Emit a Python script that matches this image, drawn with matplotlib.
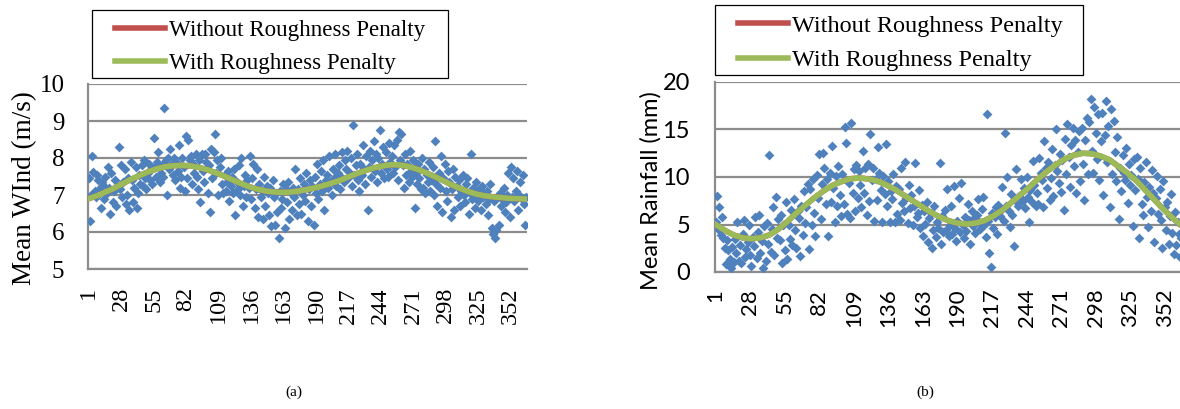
import matplotlib.pyplot as plt
from matplotlib.patches import Rectangle
import numpy as np

# дни года (категории по оси X)
days = np.arange(1, 366)
tick_days = [1, 28, 55, 82, 109, 136, 163, 190, 217, 244, 271, 298, 325, 352]

# (a) средняя скорость ветра, м/с - точки
wind = [
    7.45, 6.30, 7.00, 8.05, 7.62, 7.10, 6.95, 7.55, 7.40, 7.15, 6.65, 7.35, 7.28, 6.90, 7.50,
    7.05, 7.75, 7.20, 6.50, 7.60, 6.80, 7.10, 7.40, 6.70, 7.25, 8.30, 7.15, 7.80, 6.95, 7.35,
    7.70, 6.75, 7.00, 7.45, 6.60, 7.90, 7.40, 6.80, 7.20, 7.75, 6.65, 7.05, 7.55, 7.30, 7.80,
    7.25, 7.95, 7.45, 7.15, 7.60, 7.85, 7.40, 7.70, 7.30, 8.55, 7.75, 7.50, 7.90, 8.15, 7.35,
    7.60, 7.80, 7.50, 9.35, 7.95, 7.00, 8.00, 7.70, 8.25, 7.85, 7.55, 8.00, 7.40, 7.90, 7.65,
    8.35, 7.20, 7.50, 8.00, 7.75, 7.10, 8.60, 7.45, 8.50, 7.95, 8.05, 7.30, 7.85, 7.60, 8.10,
    7.50, 7.15, 7.95, 6.80, 8.10, 7.65, 7.35, 8.10, 7.90, 7.05, 7.80, 6.55, 8.25, 7.45, 8.15,
    8.65, 7.60, 7.95, 7.00, 7.75, 8.00, 7.30, 7.05, 7.55, 7.10, 7.35, 7.65, 6.85, 7.25, 7.50,
    7.05, 7.70, 6.45, 7.35, 7.15, 7.80, 7.00, 8.00, 6.70, 7.25, 7.55, 6.95, 7.40, 7.20, 8.05,
    6.90, 7.45, 7.85, 6.65, 7.15, 7.70, 6.40, 7.30, 6.95, 7.10, 6.35, 7.50, 6.70, 7.25, 7.05,
    6.45, 7.20, 6.15, 7.40, 6.95, 6.20, 7.05, 6.55, 5.85, 7.10, 6.65, 6.90, 7.30, 6.10, 7.15,
    6.80, 7.35, 6.35, 7.05, 6.60, 7.20, 6.95, 7.70, 6.45, 7.15, 6.75, 7.45, 6.50, 7.00, 7.30,
    6.85, 7.60, 6.30, 7.15, 7.40, 6.70, 7.25, 6.20, 7.50, 7.05, 7.85, 6.90, 7.30, 7.65, 7.10,
    7.95, 6.60, 7.40, 7.55, 7.20, 8.05, 7.35, 7.00, 7.70, 7.45, 8.10, 7.25, 7.60, 7.80, 7.15,
    7.50, 8.15, 7.35, 7.95, 7.70, 8.20, 7.45, 7.60, 8.00, 7.25, 8.90, 7.55, 7.80, 8.10, 7.40,
    7.10, 7.85, 7.55, 8.35, 7.70, 7.30, 8.05, 6.60, 7.75, 8.20, 7.50, 7.95, 8.45, 7.65, 8.10,
    7.35, 8.00, 8.75, 7.60, 7.85, 8.30, 7.45, 8.15, 7.70, 7.50, 8.40, 7.90, 8.05, 7.60, 8.35,
    7.75, 8.50, 7.40, 8.70, 7.95, 8.65, 7.80, 7.20, 8.10, 7.55, 7.85, 7.35, 8.20, 7.65, 7.50,
    7.95, 6.65, 7.60, 7.30, 7.85, 7.45, 7.15, 8.00, 7.20, 7.70, 7.05, 7.55, 7.35, 7.90, 7.10,
    7.40, 7.75, 7.00, 8.45, 7.30, 6.70, 7.60, 7.20, 8.05, 6.55, 7.45, 7.85, 7.10, 6.85, 7.65,
    7.35, 6.40, 7.15, 7.70, 6.60, 7.50, 7.25, 6.95, 7.40, 6.70, 7.10, 7.55, 7.00, 6.80, 7.30,
    7.45, 6.50, 7.05, 8.10, 6.90, 7.20, 6.65, 7.35, 7.00, 6.85, 7.15, 6.60, 7.25, 6.95, 7.05,
    6.75, 7.10, 6.45, 6.90, 7.30, 6.10, 5.95, 6.85, 5.85, 6.05, 6.95, 6.20, 7.05, 6.70, 6.90,
    7.20, 6.55, 6.80, 7.00, 7.60, 6.40, 7.75, 6.95, 7.45, 6.85, 7.10, 7.65, 6.60, 7.00, 7.35,
    6.90, 7.55, 6.75, 6.20, 6.95,
]

# (a) сглаженные кривые (значения через каждые 7 дней)
curve_days = [1, 8, 15, 22, 29, 36, 43, 50, 57, 64, 71, 78, 85, 92, 99, 106, 113, 120, 127,
              134, 141, 148, 155, 162, 169, 176, 183, 190, 197, 204, 211, 218, 225, 232, 239,
              246, 253, 260, 267, 274, 281, 288, 295, 302, 309, 316, 323, 330, 337, 344, 351,
              358, 365]
wind_smooth = [6.90, 6.98, 7.08, 7.18, 7.30, 7.42, 7.52, 7.62, 7.70, 7.76, 7.79, 7.80, 7.79,
               7.75, 7.69, 7.61, 7.52, 7.42, 7.32, 7.23, 7.16, 7.11, 7.08, 7.07, 7.08, 7.11,
               7.15, 7.20, 7.26, 7.33, 7.41, 7.50, 7.59, 7.67, 7.74, 7.79, 7.82, 7.81, 7.77,
               7.70, 7.61, 7.51, 7.40, 7.29, 7.19, 7.10, 7.03, 6.98, 6.95, 6.93, 6.91, 6.90,
               6.89]
wind_rough = wind_smooth  # красная кривая почти совпадает с зелёной

# (b) среднее количество осадков, мм - точки
rain = [
    5.30, 8.00, 4.50, 6.80, 3.90, 5.80, 3.60, 2.50, 0.80, 3.40, 2.30, 1.40, 0.40, 2.60, 1.10,
    3.50, 2.00, 5.30, 1.20, 2.80, 0.90, 4.00, 5.50, 1.60, 2.40, 3.20, 5.00, 1.80, 0.60, 3.70,
    2.70, 5.80, 1.50, 4.20, 6.00, 2.00, 3.30, 0.40, 4.80, 1.20, 5.20, 3.00, 12.30, 2.10, 4.50,
    6.80, 1.80, 7.90, 3.60, 5.60, 3.40, 6.00, 0.90, 4.90, 2.30, 7.40, 1.40, 5.00, 3.50, 6.50,
    2.80, 7.70, 4.40, 2.50, 6.40, 5.70, 1.70, 7.00, 3.90, 8.50, 5.20, 6.80, 9.30, 2.40, 8.70,
    5.00, 9.80, 6.20, 3.80, 10.20, 7.80, 12.40, 5.60, 9.30, 12.50, 11.00, 7.20, 9.80, 3.80, 10.40,
    7.40, 13.30, 8.80, 5.30, 10.10, 6.90, 11.20, 8.10, 5.90, 10.30, 7.20, 15.30, 13.60, 6.10, 9.40,
    5.70, 15.70, 8.30, 10.80, 6.40, 11.30, 7.80, 10.60, 9.20, 6.80, 12.70, 8.30, 10.90, 6.00, 11.40,
    7.50, 14.50, 9.70, 11.00, 5.40, 9.80, 7.60, 13.20, 10.40, 8.60, 5.30, 10.10, 8.20, 13.50, 6.90,
    9.60, 5.30, 8.50, 7.70, 10.30, 5.30, 9.10, 6.10, 8.70, 5.50, 10.90, 7.30, 6.40, 11.60, 7.80,
    5.20, 9.20, 6.70, 8.10, 4.90, 7.00, 11.50, 5.80, 6.20, 8.60, 4.60, 7.10, 3.80, 6.40, 5.10,
    7.40, 3.20, 5.70, 6.20, 2.50, 4.40, 6.90, 3.70, 5.30, 4.60, 11.50, 3.00, 5.90, 4.20, 6.50,
    4.40, 8.70, 3.80, 5.00, 6.90, 4.00, 9.10, 4.60, 3.30, 5.40, 7.80, 4.20, 9.40, 4.90, 3.60,
    5.80, 4.30, 7.20, 5.50, 3.00, 6.40, 4.80, 5.70, 4.10, 6.00, 7.70, 5.30, 4.50, 6.60, 7.90,
    4.90, 3.70, 16.60, 5.40, 2.00, 0.50, 6.20, 4.60, 5.80, 6.80, 4.00, 7.10, 5.90, 6.50, 9.00,
    5.40, 14.60, 7.00, 10.00, 6.40, 4.70, 8.20, 6.00, 2.70, 7.60, 10.80, 6.90, 8.00, 7.40, 9.80,
    7.50, 8.80, 6.70, 10.00, 7.90, 5.30, 8.60, 7.40, 11.70, 9.20, 6.90, 8.30, 7.20, 12.00, 10.40,
    9.70, 6.80, 13.80, 10.90, 8.80, 11.60, 7.60, 9.90, 12.90, 8.00, 11.30, 15.00, 10.60, 9.40, 12.40,
    8.40, 11.80, 6.50, 14.00, 10.30, 15.60, 12.10, 9.00, 13.40, 15.20, 11.20, 13.90, 8.30, 12.60, 14.80,
    9.60, 15.20, 11.40, 7.60, 13.90, 16.20, 10.30, 15.80, 18.20, 12.70, 10.40, 17.40, 14.60, 11.90, 16.60,
    9.70, 13.80, 16.70, 8.10, 14.40, 18.00, 11.60, 15.40, 6.80, 17.20, 10.30, 15.90, 12.60, 9.60, 14.20,
    5.60, 10.90, 8.50, 12.30, 10.40, 9.70, 13.00, 7.30, 11.40, 9.20, 10.20, 4.80, 11.90, 8.60, 12.10,
    9.80, 3.60, 10.90, 7.20, 6.00, 9.50, 11.60, 7.90, 4.70, 9.00, 6.40, 10.70, 8.30, 3.20, 7.80,
    10.10, 6.10, 8.70, 5.50, 2.50, 9.60, 6.80, 4.40, 7.40, 3.00, 5.90, 8.20, 4.10, 1.90, 6.30,
    2.80, 5.30, 4.00, 1.60, 3.60,
]

# (b) сглаженные кривые
rain_smooth = [5.00, 4.40, 3.90, 3.60, 3.50, 3.60, 3.90, 4.50, 5.30, 6.20, 7.00, 7.80, 8.50,
               9.10, 9.50, 9.80, 9.90, 9.80, 9.60, 9.20, 8.70, 8.10, 7.50, 6.90, 6.30, 5.80,
               5.40, 5.15, 5.05, 5.15, 5.40, 5.90, 6.50, 7.30, 8.10, 8.90, 9.80, 10.60, 11.30,
               11.90, 12.30, 12.50, 12.45, 12.20, 11.80, 11.10, 10.40, 9.60, 8.60, 7.60, 6.60,
               5.70, 4.90]
rain_rough = rain_smooth

blue = '#4F81BD'
red = '#C0504D'
green = '#9BBB59'
grid_col = '#8C8C8C'

W, H = 1180, 409
fig = plt.figure(figsize=(W / 100, H / 100), dpi=100)


def px(x0, y0, x1, y1):
    # прямоугольник в пикселях (от левого верхнего угла) -> доли фигуры
    return [x0 / W, 1 - y1 / H, (x1 - x0) / W, (y1 - y0) / H]


def draw_panel(rect, y, rough, smooth, ylim, yticks, ylabel, font, ytick_size, xtick_size,
               ylab_size, ylab_xy, ypad, xpad, leg_box, leg_anchor, leg_size):
    ax = fig.add_axes(rect)
    ax.scatter(days, y, marker='D', s=25, color=blue, linewidths=0, zorder=3)
    l1, = ax.plot(curve_days, rough, color=red, lw=4, zorder=4,
                  label='Without Roughness Penalty')
    l2, = ax.plot(curve_days, smooth, color=green, lw=4, zorder=5,
                  label='With Roughness Penalty')
    ax.set_xlim(0.5, 365.5)
    ax.set_ylim(*ylim)
    ax.set_yticks(yticks)
    ax.set_xticks(tick_days)
    ax.set_xticklabels([str(d) for d in tick_days], rotation=90, va='top')
    for lab in ax.get_xticklabels():
        lab.set_fontfamily(font)
        lab.set_fontsize(xtick_size)
    for lab in ax.get_yticklabels():
        lab.set_fontfamily(font)
        lab.set_fontsize(ytick_size)
    ax.tick_params(axis='y', length=0, pad=ypad)
    ax.tick_params(axis='x', length=0, pad=xpad)
    ax.grid(axis='y', color=grid_col, lw=1.6, zorder=0)
    ax.set_axisbelow(True)
    for s in ['top', 'right']:
        ax.spines[s].set_visible(False)
    for s in ['left', 'bottom']:
        ax.spines[s].set_color(grid_col)
        ax.spines[s].set_linewidth(1.6)
    ax.set_ylabel(ylabel, fontfamily=font, fontsize=ylab_size)
    ax.yaxis.set_label_coords(*ylab_xy)

    fpx = leg_size * 100 / 72
    fig.legend(handles=[l1, l2], loc='center left', bbox_to_anchor=leg_anchor,
               prop={'family': 'Liberation Serif', 'size': leg_size}, frameon=False,
               handlelength=50 / fpx, handletextpad=4 / fpx, labelspacing=0.52,
               borderpad=0, borderaxespad=0)
    fig.patches.append(Rectangle(leg_box[:2], leg_box[2], leg_box[3], transform=fig.transFigure,
                                 fill=False, ec='black', lw=0.9))
    return ax


ax1 = draw_panel(px(88, 84, 527, 269), wind, wind_rough, wind_smooth,
                 (5, 10), [5, 6, 7, 8, 9, 10], 'Mean WInd (m/s)', 'Liberation Serif',
                 18, 17.5, 19.5, (-0.116, 0.44), 17, 13,
                 px(92, 10, 448, 78), (115 / W, 1 - 47 / H), 16.6)
ax2 = draw_panel(px(715, 82, 1182, 272), rain, rain_rough, rain_smooth,
                 (0, 20), [0, 5, 10, 15, 20], 'Mean Rainfall (mm)', 'Lato',
                 17, 16, 17, (-0.114, 0.43), 18, 12,
                 px(715, 5, 1083, 75), (738 / W, 1 - 43 / H), 17.5)

fig.text(294 / W, 1 - 392 / H, '(a)', ha='center', va='center',
         fontfamily='Liberation Serif', fontsize=11)
fig.text(925 / W, 1 - 392 / H, '(b)', ha='center', va='center',
         fontfamily='Liberation Serif', fontsize=11)

fig.savefig('out.png', dpi=100)
